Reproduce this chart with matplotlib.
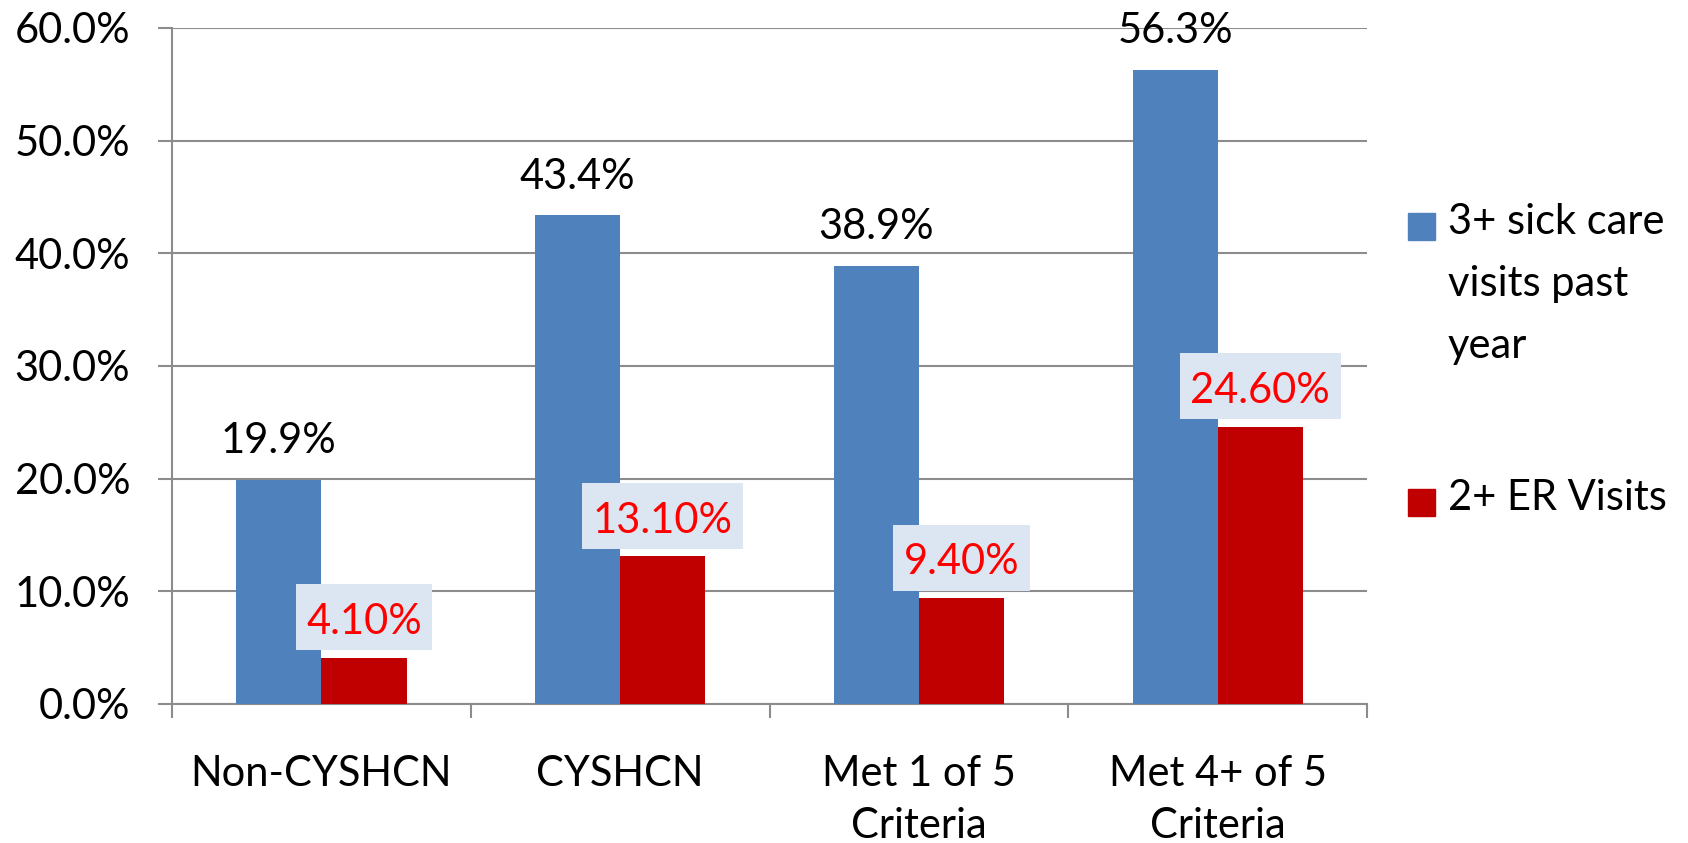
import numpy as np
import matplotlib.pyplot as plt
from matplotlib.patches import Rectangle
from matplotlib.path import Path

# data
categories = ["Non-CYSHCN", "CYSHCN", "Met 1 of 5\nCriteria", "Met 4+ of 5\nCriteria"]
sick_care = [19.9, 43.4, 38.9, 56.3]
er_visits = [4.1, 13.1, 9.4, 24.6]
sick_labels = ["19.9%", "43.4%", "38.9%", "56.3%"]
er_labels = ["4.10%", "13.10%", "9.40%", "24.60%"]
series_names = ["3+ sick care\nvisits past\nyear", "2+ ER Visits"]
yticks = [0, 10, 20, 30, 40, 50, 60]

BLUE = "#4F81BD"
RED = "#C00000"
GRID = "#8C8C8C"


def label_box(x0, y0, width, height, mutation_size):
    # rectangle with more room on top than below, like the excel label boxes
    l, r, b, t = 0.25, 0.25, 0.22, 0.45
    xa = x0 - l * mutation_size
    xb = x0 + width + r * mutation_size
    ya = y0 - b * mutation_size
    yb = y0 + height + t * mutation_size
    return Path([(xa, ya), (xb, ya), (xb, yb), (xa, yb), (xa, ya)], closed=True)


plt.rcParams['font.family'] = ['Lato', 'DejaVu Sans']

fig = plt.figure(figsize=(16.88, 8.43), dpi=100)
ax = fig.add_axes([0.1019, 0.1649, 0.708, 0.8019])

x = np.arange(len(categories))
w = 0.285
ax.bar(x - w / 2, sick_care, w, color=BLUE, zorder=3)
ax.bar(x + w / 2, er_visits, w, color=RED, zorder=3)

# value labels
for xi, v, lab in zip(x, sick_care, sick_labels):
    ax.annotate(lab, (xi - w / 2, v), xytext=(0, 19), textcoords="offset points",
                ha="center", va="baseline", fontsize=30, color="black")
for xi, v, lab in zip(x, er_visits, er_labels):
    ax.annotate(lab, (xi + w / 2, v), xytext=(0, 17), textcoords="offset points",
                ha="center", va="baseline", fontsize=30, color="#FF0000",
                bbox=dict(boxstyle=label_box, fc="#DCE6F2", ec="none"),
                zorder=5)

ax.set_xlim(-0.5, len(categories) - 0.5)
ax.set_ylim(0, 60)
ax.set_yticks(yticks)
ax.set_yticklabels([f"{t:.1f}%" for t in yticks], fontsize=30)
ax.yaxis.grid(True, color=GRID, linewidth=1.5, zorder=0)
ax.tick_params(axis="y", length=10, width=1.5, color=GRID, pad=20)

ax.set_xticks(x)
ax.set_xticklabels(categories, fontsize=30, linespacing=1.45)
ax.tick_params(axis="x", length=0, pad=37)
ax.set_xticks(np.arange(-0.5, len(categories)), minor=True)
ax.tick_params(axis="x", which="minor", length=10, width=1.5, color=GRID)

for s in ["top", "right"]:
    ax.spines[s].set_visible(False)
for s in ["left", "bottom"]:
    ax.spines[s].set_color(GRID)
    ax.spines[s].set_linewidth(1.5)

# legend drawn by hand so the marker sits on the first text line
W, H = 1688, 843
legend_rows = [(213, BLUE), (489, RED)]
for (top, col), name in zip(legend_rows, series_names):
    fig.patches.append(Rectangle((1408 / W, 1 - (top + 27) / H), 27 / W, 27 / H,
                                 transform=fig.transFigure, color=col))
    fig.text(1448 / W, 1 - (top - 10) / H, name, fontsize=30, va="top", ha="left",
             linespacing=1.78)

fig.savefig("out.png", dpi=100)
